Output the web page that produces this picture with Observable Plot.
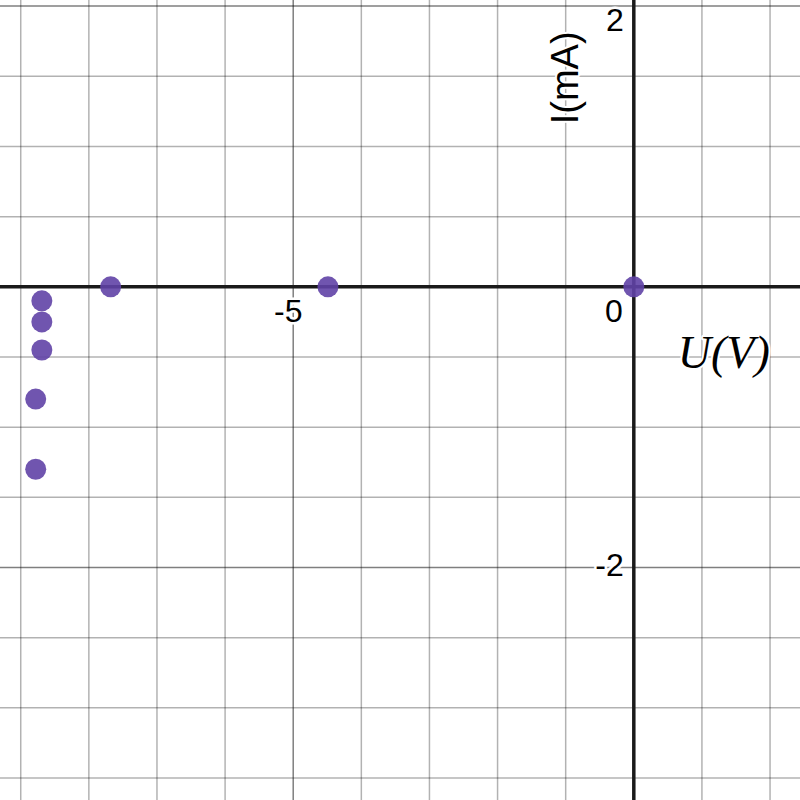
<!DOCTYPE html>
<html>
<head>
<meta charset="utf-8">
<script src="https://cdn.jsdelivr.net/npm/d3@7"></script>
<script src="https://cdn.jsdelivr.net/npm/@observablehq/plot@0.6"></script>
<style>
  html, body { margin: 0; padding: 0; background: #fff; }
  #chart svg { display: block; }
</style>
</head>
<body>
<div id="chart"></div>
<script>
// Data: voltage U (V) and current I (mA)
const U = [0, -4.49, -7.68, -8.69, -8.69, -8.69, -8.78, -8.78];
const I = [0, 0, 0, -0.10, -0.25, -0.45, -0.80, -1.30];

// Grid values
const xMinor = [-9, -8, -7, -6, -4, -3, -2, -1, 1, 2];
const xMajor = [-5];
const yMinor = [-3.5, -3, -2.5, -1.5, -1, -0.5, 0.5, 1, 1.5];
const yMajor = [-2, 2];

// Tick labels
const xTickValues = [-5];
const xTickLabels = ["-5"];
const yTickValues = [2, -2];
const yTickLabels = ["2", "-2"];
const originLabel = "0";
const xTitle = "U(V)";
const yTitle = "I(mA)";

const points = U.map((u, i) => ({u, i: I[i]}));
const sans = "Liberation Sans, Arial, sans-serif";
const halo = {fill: "#000", stroke: "#fff", strokeWidth: 5, paintOrder: "stroke"};

const chart = Plot.plot({
  width: 800,
  height: 800,
  margin: 0,
  x: {domain: [-9.297, 2.447], axis: null},
  y: {domain: [-3.660, 2.040], axis: null},
  style: {background: "#fff"},
  marks: [
    Plot.ruleX(xMinor, {stroke: "#000", strokeOpacity: 0.3, strokeWidth: 1.5}),
    Plot.ruleY(yMinor, {stroke: "#000", strokeOpacity: 0.3, strokeWidth: 1.5}),
    Plot.ruleX(xMajor, {stroke: "#000", strokeOpacity: 0.5, strokeWidth: 1.5}),
    Plot.ruleY(yMajor, {stroke: "#000", strokeOpacity: 0.5, strokeWidth: 1.5}),
    Plot.ruleX([0], {stroke: "#1a1a1a", strokeWidth: 3.5}),
    Plot.ruleY([0], {stroke: "#1a1a1a", strokeWidth: 3.5}),
    // x tick labels
    Plot.text(xTickValues, {
      x: d => d, y: () => 0, text: (d, i) => xTickLabels[i],
      dx: -5, dy: 25, fontSize: 32, fontFamily: sans, ...halo
    }),
    // origin label
    Plot.text([originLabel], {
      x: () => 0, y: () => 0, text: d => d,
      dx: -20, dy: 25, fontSize: 32, fontFamily: sans, ...halo
    }),
    // y tick labels
    Plot.text([yTickValues[0]], {
      x: () => 0, y: d => d, text: () => yTickLabels[0],
      dx: -10, dy: 15, textAnchor: "end", fontSize: 32, fontFamily: sans, ...halo
    }),
    Plot.text([yTickValues[1]], {
      x: () => 0, y: d => d, text: () => yTickLabels[1],
      dx: -10, dy: -2, textAnchor: "end", fontSize: 32, fontFamily: sans, ...halo
    }),
    // axis titles
    Plot.text([yTitle], {
      x: () => 0, y: () => 0, text: d => d, rotate: -90,
      dx: -68, dy: -209, fontSize: 38, fontFamily: sans,
      fill: "#000", stroke: "#fff", strokeWidth: 4, paintOrder: "stroke"
    }),
    Plot.text([xTitle], {
      x: () => 0, y: () => 0, text: d => d,
      dx: 90, dy: 66, fontSize: 46, fontStyle: "italic",
      fontFamily: "Liberation Serif, Times New Roman, serif",
      fill: "#000", stroke: "#fff", strokeWidth: 4, paintOrder: "stroke"
    }),
    // data points
    Plot.dot(points, {x: "u", y: "i", r: 10.5, fill: "#6042a6", fillOpacity: 0.9, stroke: "none"})
  ]
});

document.getElementById("chart").appendChild(chart);
</script>
</body>
</html>
